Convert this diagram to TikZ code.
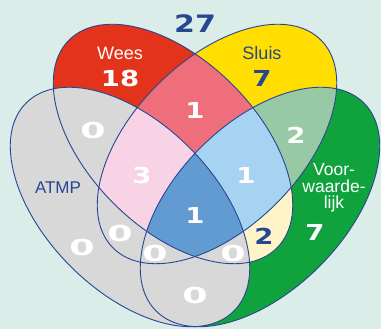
\documentclass[tikz,border=0pt]{standalone}
\usepackage{fontspec}
\setmainfont{Liberation Sans}
\newfontfamily\digitfont{DejaVu Sans}

\definecolor{bgmint}{HTML}{DAEDE9}
\definecolor{navy}{HTML}{274693}
\definecolor{wred}{HTML}{E3341B}
\definecolor{syellow}{HTML}{FFDE00}
\definecolor{vgreen}{HTML}{10A33D}
\definecolor{agrey}{HTML}{D8D8D8}
\definecolor{pinkred}{HTML}{EE6E7B}
\definecolor{softpink}{HTML}{F8D3E5}
\definecolor{deepblue}{HTML}{629BD2}
\definecolor{paleblue}{HTML}{A6D3F2}
\definecolor{sagegreen}{HTML}{97C9A4}
\definecolor{cream}{HTML}{FEF4C8}

% the four congruent ellipses
\def\Wp{(173,185) ellipse [x radius=147, y radius=84]}
\def\Sp{(217,185) ellipse [x radius=147, y radius=84]}
\def\Ap{(130,122) ellipse [x radius=147, y radius=84]}
\def\Vp{(260,122) ellipse [x radius=147, y radius=84]}

\newcommand\wide[1]{\scalebox{1.25}[1]{#1}}
\newcommand\ring{\scalebox{1.65}[1]{0}}

\tikzset{
  rotW/.style={rotate around={-45:(173,185)}},
  rotS/.style={rotate around={45:(217,185)}},
  rotA/.style={rotate around={-45:(130,122)}},
  rotV/.style={rotate around={45:(260,122)}},
  outline/.style={draw=navy, line width=0.9pt},
  lbl/.style={font=\fontsize{18}{16}\selectfont, inner sep=0pt, align=center},
  num/.style={font=\digitfont\bfseries\fontsize{22}{22}\selectfont, inner sep=0pt, text=white},
}

\begin{document}
\begin{tikzpicture}[x=1pt,y=1pt]
  \useasboundingbox (0,0) rectangle (381,329);
  \fill[bgmint] (0,0) rectangle (381,329);

  % single-set fills
  \fill[vgreen, rotV] \Vp;
  \fill[wred, rotW] \Wp;
  \fill[syellow, rotS] \Sp;
  % Wees with Voorwaardelijk
  \begin{scope}
    \clip[rotW] \Wp;
    \fill[cream, rotV] \Vp;
  \end{scope}
  % Sluis with Voorwaardelijk
  \begin{scope}
    \clip[rotS] \Sp;
    \fill[sagegreen, rotV] \Vp;
  \end{scope}
  \fill[agrey, rotA] \Ap;
  % Wees with Sluis and deeper overlaps
  \begin{scope}
    \clip[rotW] \Wp;
    \fill[pinkred, rotS] \Sp;
    \begin{scope}
      \clip[rotS] \Sp;
      \fill[paleblue, rotV] \Vp;
      \fill[softpink, rotA] \Ap;
      \clip[rotA] \Ap;
      \fill[deepblue, rotV] \Vp;
    \end{scope}
  \end{scope}

  % outlines
  \draw[outline, rotA] \Ap;
  \draw[outline, rotV] \Vp;
  \draw[outline, rotW] \Wp;
  \draw[outline, rotS] \Sp;

  % set labels
  \node[lbl, text=white] (wees) at (120,276) {Wees};
  \node[lbl, text=navy] (sluis) at (262,276) {Sluis};
  \node[lbl, text=navy, font=\fontsize{17}{16}\selectfont] (atmp) at (58,141) {ATMP};
  \node[lbl, text=white, font=\fontsize{17.5}{16.5}\selectfont] (voorw) at (334,141) {Voor-\\waarde-\\lijk};

  % counts
  \node[num, text=navy, font=\digitfont\bfseries\fontsize{24}{24}\selectfont] (total) at (195,305) {\wide{27}};
  \node[num] (nW) at (120,251) {\wide{18}};
  \node[num, text=navy] (nS) at (262,251) {\wide{7}};
  \node[num] (nWS) at (195,219) {\wide{1}};
  \node[num] (nWA) at (93,199) {\ring};
  \node[num] (nSV) at (296,194) {\wide{2}};
  \node[num] (nWSA) at (142,154) {\wide{3}};
  \node[num] (nWSV) at (246,154) {\wide{1}};
  \node[num] (nAll) at (195,114) {\wide{1}};
  \node[num] (nV) at (315,97) {\wide{7}};
  \node[num, text=navy] (nWV) at (264,93) {\wide{2}};
  \node[num] (nSA) at (120,96) {\ring};
  \node[num] (nA) at (82,82) {\ring};
  \node[num] (nSAV) at (155,76) {\ring};
  \node[num] (nWAV) at (233,76) {\ring};
  \node[num] (nAV) at (195,34) {\ring};
\end{tikzpicture}
\end{document}
